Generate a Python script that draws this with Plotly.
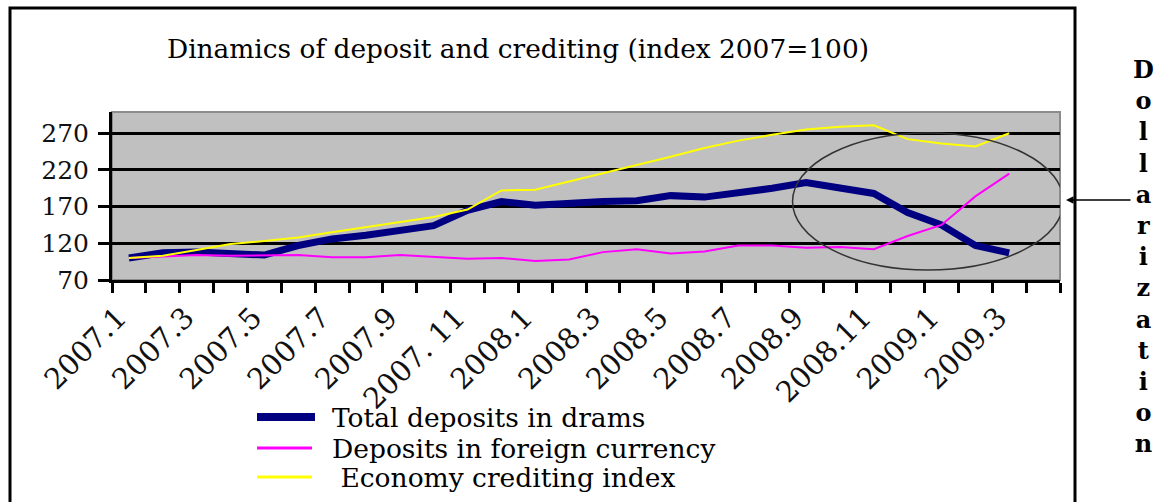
import plotly.graph_objects as go

# Monthly observations, January 2007 = first point (index 2007 = 100)
months = [
    "2007.1", "2007.2", "2007.3", "2007.4", "2007.5", "2007.6", "2007.7",
    "2007.8", "2007.9", "2007.10", "2007.11", "2007.12",
    "2008.1", "2008.2", "2008.3", "2008.4", "2008.5", "2008.6", "2008.7",
    "2008.8", "2008.9", "2008.10", "2008.11", "2008.12",
    "2009.1", "2009.2", "2009.3",
]
tick_text = [
    "2007.1", "2007.3", "2007.5", "2007.7", "2007.9", "2007. 11",
    "2008.1", "2008.3", "2008.5", "2008.7", "2008.9", "2008.11",
    "2009.1", "2009.3",
]

total_drams = [100, 107, 108, 105, 104, 117, 126, 131, 137, 144, 165, 177, 172, 175,
               177, 178, 185, 183, 188, 195, 203, 196, 188, 162, 145, 117, 107]
foreign_currency = [100, 102, 104, 103, 103, 104, 101, 101, 104, 101, 99, 100, 96, 98,
                    108, 112, 106, 109, 117, 117, 114, 115, 112, 130, 145, 184, 215]
crediting = [100, 103, 111, 119, 123, 128, 135, 142, 150, 156, 166, 192, 193, 204,
             215, 227, 238, 250, 260, 268, 275, 279, 281, 262, 256, 252, 270]

y_ticks = [70, 120, 170, 220, 270]

series_names = ["Total deposits in drams", "Deposits in foreign currency",
                " Economy crediting index"]
series_values = [total_drams, foreign_currency, crediting]
series_colors = ["#000080", "#ff00ff", "#ffff00"]
series_widths = [7, 2, 2]

FONT = "DejaVu Serif"
W, H = 1166, 502
ML, MR, MT, MB = 112, 106, 112, 222
PW, PH = W - ML - MR, H - MT - MB


def px(xp):
    return (xp - ML) / PW


def py(yp):
    return (H - MB - yp) / PH


x_pos = list(range(len(months)))

fig = go.Figure()
for name, vals, col, wd in zip(series_names, series_values, series_colors, series_widths):
    fig.add_trace(go.Scatter(
        x=x_pos, y=vals, mode="lines", name=name.strip(),
        line=dict(color=col, width=wd), showlegend=False,
        hoverinfo="skip",
    ))

shapes = []
annotations = []

# plot-area frame (grey), kept under the axis lines
shapes.append(dict(type="rect", xref="paper", yref="paper", x0=0, x1=1, y0=0, y1=1,
                   line=dict(color="#8c8c8c", width=2), layer="below"))

# outer chart border
shapes.append(dict(type="rect", xref="paper", yref="paper",
                   x0=px(10), x1=px(1075), y0=py(512), y1=py(8),
                   line=dict(color="black", width=3)))

# ellipse around the 2008.10 - 2009.3 period
shapes.append(dict(type="circle", xref="x", yref="y",
                   x0=19.6, x1=27.6, y0=83.6, y1=270.5,
                   line=dict(color="#333333", width=1.5)))

# legend keys and labels
legend_rows = [417, 448, 477]
key_ends = [315, 312, 312]
for name, col, wd, yr, xe in zip(series_names, series_colors, series_widths, legend_rows, key_ends):
    shapes.append(dict(type="line", xref="paper", yref="paper",
                       x0=px(257), x1=px(xe), y0=py(yr), y1=py(yr),
                       line=dict(color=col, width=wd + 1)))
    annotations.append(dict(xref="paper", yref="paper", x=px(330), y=py(yr),
                            text=name.replace(" ", "&nbsp;", 1) if name.startswith(" ") else name,
                            showarrow=False, xanchor="left", yanchor="middle",
                            font=dict(family=FONT, size=26.5, color="black")))

# title
annotations.append(dict(xref="paper", yref="paper", x=px(518), y=py(48),
                        text="Dinamics of deposit and crediting (index 2007=100)",
                        showarrow=False, xanchor="center", yanchor="middle",
                        font=dict(family=FONT, size=26.4, color="black")))

# arrow pointing at the ellipse
annotations.append(dict(xref="paper", yref="paper", x=px(1066), y=py(200),
                        ax=66, ay=0, text="", showarrow=True,
                        arrowhead=2, arrowsize=1, arrowwidth=1.5, arrowcolor="black"))

# vertical caption
annotations.append(dict(xref="paper", yref="paper", x=px(1143), y=py(256),
                        text="<br>".join("Dollarization"),
                        showarrow=False, xanchor="center", yanchor="middle", align="center",
                        font=dict(family=FONT, size=24, color="black", weight="bold")))

fig.update_layout(
    width=W, height=H, autosize=False,
    margin=dict(l=ML, r=MR, t=MT, b=MB),
    paper_bgcolor="white", plot_bgcolor="#c0c0c0",
    shapes=shapes, annotations=annotations,
    font=dict(family=FONT, color="black"),
)

fig.update_xaxes(
    range=[-0.5, 27.5], tickmode="array",
    tickvals=x_pos[::2], ticktext=tick_text,
    tickangle=-45, ticks="", showgrid=False, zeroline=False,
    showline=True, linecolor="black", linewidth=3,
    tickfont=dict(family=FONT, size=29, color="#111111"),
    ticklabelstandoff=6, ticklabelshift=-11,
    minor=dict(tickmode="linear", tick0=-0.5, dtick=1, ticks="outside",
               ticklen=10, tickwidth=2.5, tickcolor="black", showgrid=False),
)
fig.update_yaxes(
    range=[70, 299], tickmode="array", tickvals=y_ticks,
    ticks="outside", ticklen=11, tickwidth=2.5, tickcolor="black",
    showgrid=True, gridcolor="black", gridwidth=2.5, zeroline=False,
    showline=True, linecolor="black", linewidth=3,
    tickfont=dict(family=FONT, size=25, color="#111111"),
    ticklabelstandoff=4,
)

fig.write_html("out.html")
